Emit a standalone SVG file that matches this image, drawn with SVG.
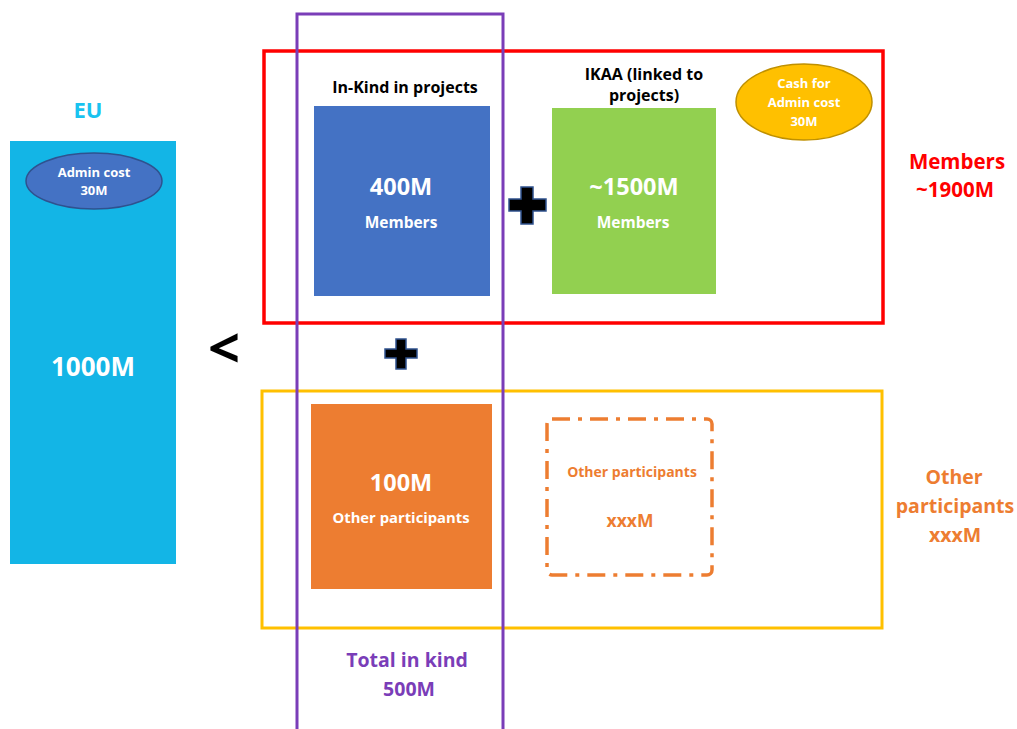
<svg xmlns="http://www.w3.org/2000/svg" width="1017" height="729" viewBox="0 0 1017 729">
  <style>
    text { font-family: "Open Sans", "Noto Sans", "Liberation Sans", sans-serif; font-weight: bold; text-anchor: middle; }
    .w { fill: #ffffff; }
    .k { fill: #000000; }
    .red { fill: #ff0000; }
    .org { fill: #ed7d31; }
    .pur { fill: #7a3db8; }
    .plus { fill: #000000; stroke: #2f528f; stroke-width: 1.5; }
  </style>
  <rect width="1017" height="729" fill="#ffffff"/>

  <!-- EU budget -->
  <g id="eu">
    <text x="88" y="118" font-size="22" fill="#19c3f0">EU</text>
    <rect x="10" y="141" width="166" height="423" fill="#13b5e6"/>
    <text x="93" y="376" font-size="26" class="w">1000M</text>
  </g>
  <g id="eu-admin">
    <ellipse cx="94" cy="181" rx="68" ry="28" fill="#4472c4" stroke="#2f528f" stroke-width="1.5"/>
    <text x="94" y="177" font-size="13" class="w">Admin cost</text>
    <text x="94" y="195" font-size="13" class="w">30M</text>
  </g>
  <g id="less-than">
    <text x="224" y="368" font-size="56" class="k">&lt;</text>
  </g>

  <!-- Members frame -->
  <g id="members-frame">
    <rect x="264" y="51" width="619" height="272" fill="none" stroke="#ff0000" stroke-width="3.5"/>
    <text x="957" y="169" font-size="20.5" class="red">Members</text>
    <text x="955" y="197" font-size="20.5" class="red">~1900M</text>
  </g>

  <!-- Other participants frame -->
  <g id="others-frame">
    <rect x="262" y="391" width="620" height="237" fill="none" stroke="#ffc000" stroke-width="3"/>
    <text x="954" y="484" font-size="19.5" class="org">Other</text>
    <text x="955" y="513" font-size="19.5" class="org">participants</text>
    <text x="955" y="542" font-size="19.5" class="org">xxxM</text>
  </g>

  <!-- In-kind members -->
  <g id="inkind-members">
    <text x="405" y="93" font-size="16" class="k">In-Kind in projects</text>
    <rect x="314" y="106" width="176" height="190" fill="#4472c4"/>
    <text x="401" y="195" font-size="23.5" class="w">400M</text>
    <text x="401" y="228" font-size="15.5" class="w">Members</text>
  </g>

  <!-- IKAA -->
  <g id="ikaa">
    <text x="644" y="80" font-size="16" class="k">IKAA (linked to</text>
    <text x="644" y="101" font-size="16" class="k">projects)</text>
    <rect x="552" y="108" width="164" height="186" fill="#92d050"/>
    <text x="634" y="195" font-size="23.5" class="w">~1500M</text>
    <text x="633" y="228" font-size="15.5" class="w">Members</text>
  </g>

  <!-- Cash for admin -->
  <g id="cash-admin">
    <ellipse cx="804" cy="102" rx="68" ry="38" fill="#ffc000" stroke="#bf9000" stroke-width="1.5"/>
    <text x="804" y="88" font-size="13" class="w">Cash for</text>
    <text x="804" y="107" font-size="13" class="w">Admin cost</text>
    <text x="804" y="126" font-size="13" class="w">30M</text>
  </g>

  <!-- In-kind other participants -->
  <g id="inkind-others">
    <rect x="311" y="404" width="181" height="185" fill="#ed7d31"/>
    <text x="401" y="491" font-size="23.5" class="w">100M</text>
    <text x="401" y="523" font-size="14.8" class="w">Other participants</text>
  </g>

  <!-- Other participants, unknown amount -->
  <g id="others-open">
    <rect x="547" y="419" width="165" height="156" rx="5" fill="none" stroke="#ed7d31" stroke-width="3.5" stroke-dasharray="18 8 4 8"/>
    <text x="632" y="477" font-size="14" class="org">Other participants</text>
    <text x="630" y="527" font-size="17.5" class="org">xxxM</text>
  </g>

  <!-- Plus signs -->
  <g id="plus-right">
    <path class="plus" d="M521 187 h12 v12 h13 v12 h-13 v13 h-12 v-13 h-12 v-12 h12 z"/>
  </g>
  <g id="plus-down">
    <path class="plus" d="M396 339 h10 v10 h11 v9 h-11 v11 h-10 v-11 h-11 v-9 h11 z"/>
  </g>

  <!-- Total in-kind column -->
  <g id="total-inkind">
    <rect x="297" y="14" width="206" height="720" fill="none" stroke="#7a3db8" stroke-width="3"/>
    <text x="407" y="667" font-size="19.5" class="pur">Total in kind</text>
    <text x="409" y="696" font-size="19.5" class="pur">500M</text>
  </g>
</svg>
